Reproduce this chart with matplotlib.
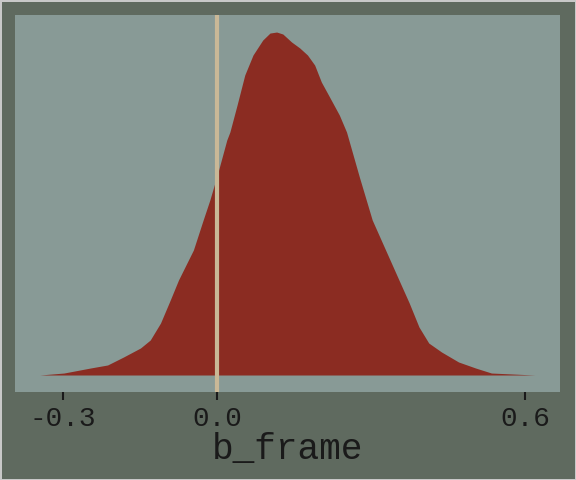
import matplotlib.pyplot as plt

# posterior density of b_frame
X = [-0.345, -0.298, -0.246, -0.213, -0.182, -0.149, -0.130, -0.110, -0.091,
     -0.075, -0.046, -0.027, -0.014, 0.002, 0.019, 0.025, 0.039, 0.054, 0.070,
     0.089, 0.103, 0.116, 0.128, 0.145, 0.161, 0.176, 0.190, 0.203, 0.219,
     0.238, 0.252, 0.277, 0.302, 0.354, 0.374, 0.393, 0.412, 0.437, 0.470,
     0.503, 0.534, 0.619]
DENSITY = [0.000, 0.023, 0.082, 0.117, 0.210, 0.315, 0.408, 0.606, 0.875,
           1.108, 1.458, 1.808, 2.041, 2.367, 2.741, 2.834, 3.149, 3.499, 3.732,
           3.907, 3.988, 4.000, 3.977, 3.884, 3.814, 3.732, 3.615, 3.417, 3.242,
           3.032, 2.834, 2.309, 1.808, 1.108, 0.840, 0.560, 0.373, 0.268, 0.152,
           0.082, 0.023, 0.000]
TICKS = [-0.3, 0.0, 0.6]
TICK_LABELS = ["-0.3", "0.0", "0.6"]
REF = 0.0

FIG_BG = "#5f6a5f"
AX_BG = "#889a96"
FILL = "#8b2c22"
REF_COLOR = "#c9b897"

plt.rcParams["font.family"] = ["Liberation Mono", "DejaVu Sans Mono"]

fig = plt.figure(figsize=(5.76, 4.8), dpi=100)
fig.patch.set_facecolor(FIG_BG)
fig.patch.set_edgecolor("#c8c8c8")
fig.patch.set_linewidth(2)
ax = fig.add_axes([0.026, 0.183, 0.946, 0.786])
ax.set_facecolor(AX_BG)

ax.fill_between(X, 0, DENSITY, color=FILL, linewidth=0)
ax.axvline(REF, color=REF_COLOR, linewidth=3)

ax.set_yticks([])
ax.set_xticks(TICKS)
ax.set_xticklabels(TICK_LABELS, fontsize=20, color="#1a1a1a")
ax.tick_params(axis="x", length=6, width=1.5, color="#1a1a1a", pad=4)
for s in ax.spines.values():
    s.set_visible(False)
ax.set_xlabel("b_frame", fontsize=26, color="#1a1a1a", labelpad=0)

fig.savefig("out.png", dpi=100, facecolor=fig.get_facecolor(),
            edgecolor=fig.get_edgecolor())
